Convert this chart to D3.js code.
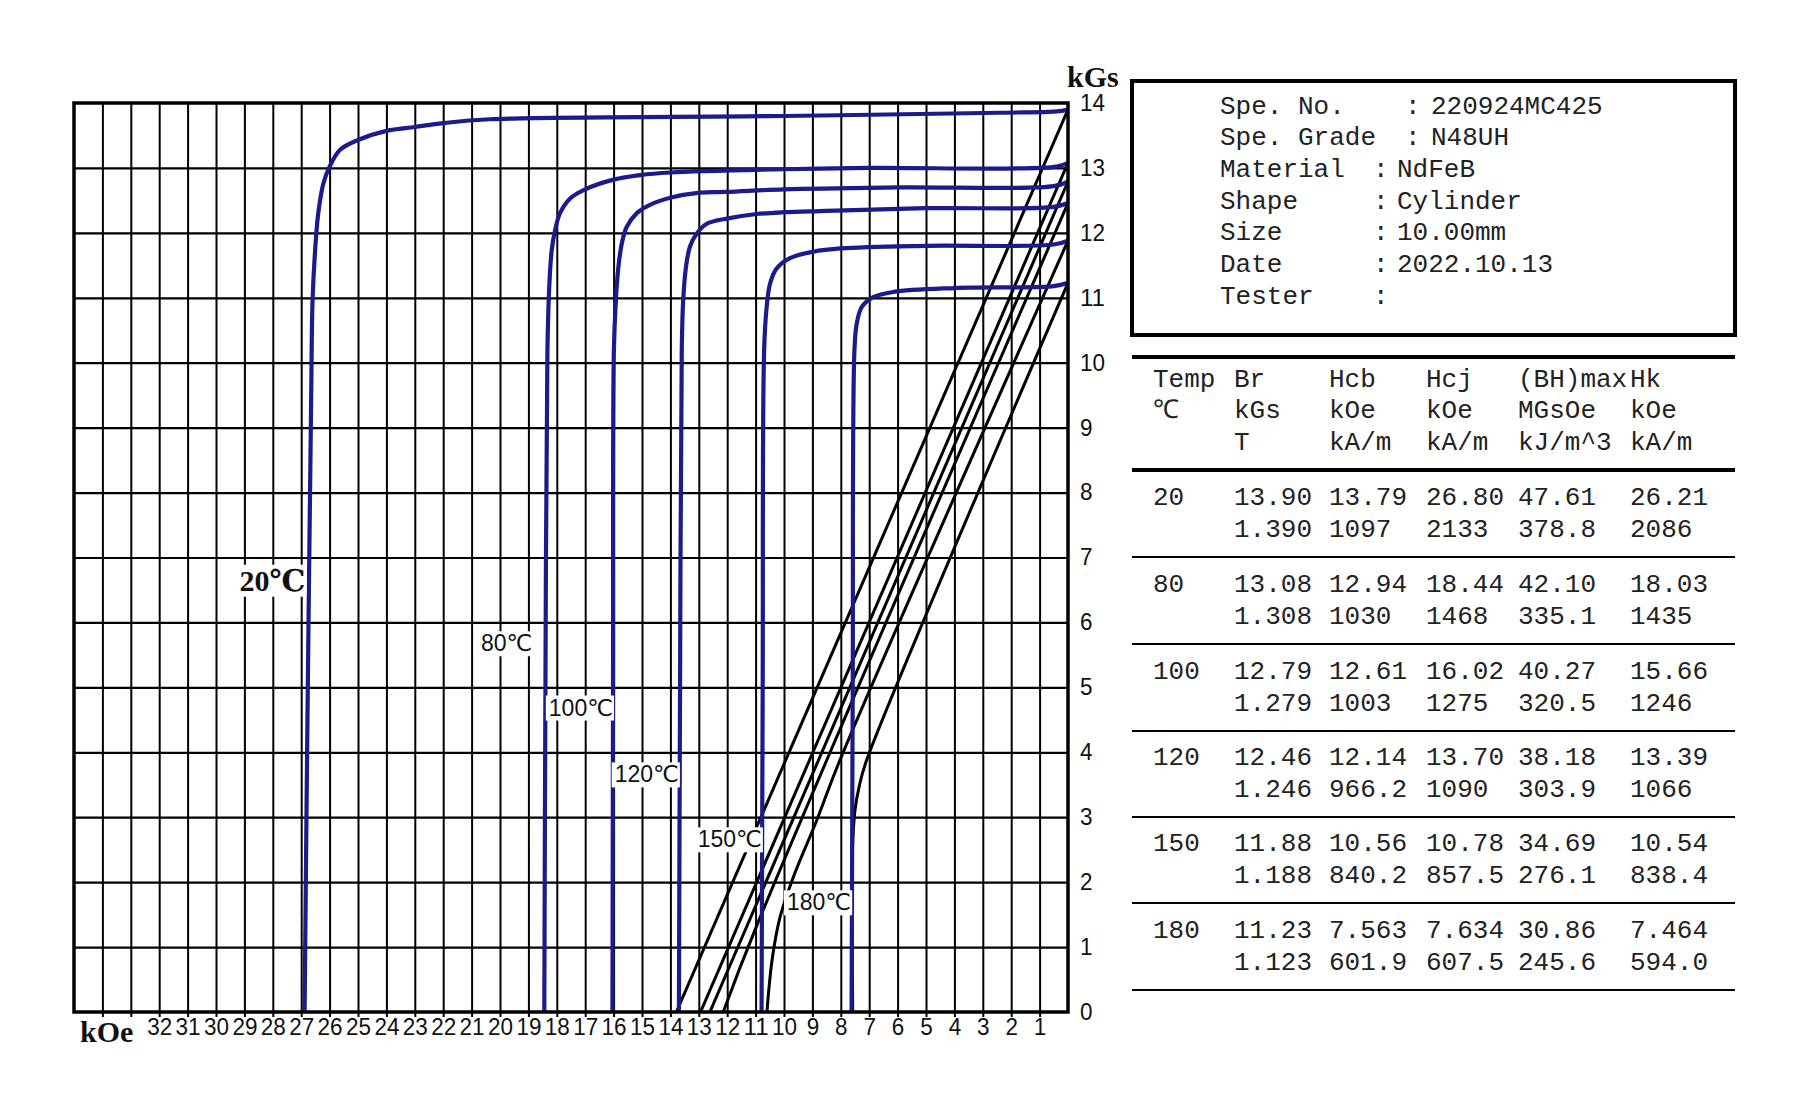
<!DOCTYPE html>
<html>
<head>
<meta charset="utf-8">
<script src="https://cdn.jsdelivr.net/npm/d3@7"></script>
<style>
  body { margin: 0; background: #fff; }
</style>
</head>
<body>
<script>
// demagnetization curves, H in kOe, J / B in kGs
var temps = [20, 80, 100, 120, 150, 180];

var jCurve20  = [[0,13.90],[0.4,13.87],[2.4,13.85],[10,13.80],[20.35,13.75],[22,13.69],[23,13.63],[24,13.57],[25,13.43],[25.63,13.28],[26.0,13.02],[26.22,12.76],[26.4,12.30],[26.51,11.73],[26.6,10.96],[26.65,9.42],[26.78,4.5],[26.88,0]];
var jCurve80  = [[0,13.08],[0.4,13.02],[7,13.0],[10,12.98],[14.0,12.93],[15.07,12.89],[16.0,12.82],[17.0,12.67],[17.53,12.53],[17.89,12.30],[18.06,12.04],[18.18,11.73],[18.26,11.22],[18.33,10.19],[18.40,5.0],[18.44,0]];
var jCurve100 = [[0,12.79],[0.5,12.72],[6,12.70],[10,12.67],[12.02,12.63],[12.96,12.62],[14.01,12.54],[14.72,12.43],[15.19,12.30],[15.54,12.09],[15.71,11.84],[15.83,11.48],[15.92,10.96],[15.99,10.19],[16.02,5.0],[16.04,0]];
var jCurve120 = [[0,12.46],[0.5,12.40],[5,12.38],[8.5,12.34],[10.96,12.29],[12.02,12.22],[12.72,12.14],[13.07,11.99],[13.31,11.79],[13.45,11.48],[13.55,10.96],[13.60,10.19],[13.66,5.0],[13.70,0]];
var jCurve150 = [[0,11.88],[0.5,11.82],[5,11.80],[8,11.76],[8.97,11.71],[9.79,11.61],[10.26,11.45],[10.49,11.22],[10.61,10.86],[10.70,10.19],[10.75,5.0],[10.79,0]];
var jCurve180 = [[0,11.23],[0.5,11.18],[4,11.15],[6.15,11.09],[6.86,11.01],[7.26,10.86],[7.44,10.60],[7.52,10.19],[7.58,5.0],[7.62,0]];

var bCurve20  = [[0,13.90],[13.79,0]];
var bCurve80  = [[0,13.08],[12.94,0]];
var bCurve100 = [[0,12.79],[12.61,0]];
var bCurve120 = [[0,12.46],[10.96,1.33],[12.14,0]];
var bCurve150 = [[0,11.88],[8.03,3.88],[8.85,2.95],[9.67,2.08],[10.14,1.46],[10.42,0.8],[10.60,0]];
var bCurve180 = [[0,11.23],[7.09,3.88],[7.35,3.48],[7.50,3.11],[7.58,2.60],[7.60,1.5],[7.58,0]];

var hcjValues = [26.80, 18.44, 16.02, 13.70, 10.78, 7.634];

var xTickLabels = [1,2,3,4,5,6,7,8,9,10,11,12,13,14,15,16,17,18,19,20,21,22,23,24,25,26,27,28,29,30,31,32];
var yTickLabels = [0,1,2,3,4,5,6,7,8,9,10,11,12,13,14];

var infoLabels = ["Spe. No.", "Spe. Grade", "Material", "Shape", "Size", "Date", "Tester"];
var infoValues = ["220924MC425", "N48UH", "NdFeB", "Cylinder", "10.00mm", "2022.10.13", ""];

var headRow1 = ["Temp", "Br", "Hcb", "Hcj", "(BH)max", "Hk"];
var headRow2 = ["℃", "kGs", "kOe", "kOe", "MGsOe", "kOe"];
var headRow3 = ["", "T", "kA/m", "kA/m", "kJ/m^3", "kA/m"];

var brKGs   = ["13.90", "13.08", "12.79", "12.46", "11.88", "11.23"];
var brT     = ["1.390", "1.308", "1.279", "1.246", "1.188", "1.123"];
var hcbKOe  = ["13.79", "12.94", "12.61", "12.14", "10.56", "7.563"];
var hcbKAm  = ["1097", "1030", "1003", "966.2", "840.2", "601.9"];
var hcjKOe  = ["26.80", "18.44", "16.02", "13.70", "10.78", "7.634"];
var hcjKAm  = ["2133", "1468", "1275", "1090", "857.5", "607.5"];
var bhMGsOe = ["47.61", "42.10", "40.27", "38.18", "34.69", "30.86"];
var bhKJm3  = ["378.8", "335.1", "320.5", "303.9", "276.1", "245.6"];
var hkKOe   = ["26.21", "18.03", "15.66", "13.39", "10.54", "7.464"];
var hkKAm   = ["2086", "1435", "1246", "1066", "838.4", "594.0"];

var jCurves = [jCurve20, jCurve80, jCurve100, jCurve120, jCurve150, jCurve180];
var bCurves = [bCurve20, bCurve80, bCurve100, bCurve120, bCurve150, bCurve180];

var width = 1800, height = 1100;
var plot = {left: 74, right: 1068, top: 103, bottom: 1012};

var svg = d3.select("body").append("svg")
    .attr("width", width)
    .attr("height", height)
    .style("background", "#fff");

var x = d3.scaleLinear().domain([35, 0]).range([plot.left, plot.right]);
var y = d3.scaleLinear().domain([0, 14]).range([plot.bottom, plot.top]);

// vertical grid (ticks poke a bit below the frame)
svg.append("g")
    .attr("transform", `translate(0, ${plot.top})`)
    .call(d3.axisBottom(x).tickValues(d3.range(1, 35)).tickSize(plot.bottom - plot.top + 5).tickFormat(""))
    .call(g => g.select(".domain").remove())
    .selectAll("line").attr("stroke", "#000").attr("stroke-width", 2);

// horizontal grid
svg.append("g")
    .attr("transform", `translate(${plot.right}, 0)`)
    .call(d3.axisLeft(y).tickValues(d3.range(1, 14)).tickSize(plot.right - plot.left).tickFormat(""))
    .call(g => g.select(".domain").remove())
    .selectAll("line").attr("stroke", "#000").attr("stroke-width", 2.2);

// x tick labels
var xAx = svg.append("g")
    .attr("transform", `translate(0, ${plot.bottom})`)
    .call(d3.axisBottom(x).tickValues(xTickLabels).tickSize(0).tickPadding(6));
xAx.select(".domain").remove();
xAx.selectAll("text")
    .attr("font-family", "Liberation Sans, Arial, sans-serif")
    .attr("font-size", 24)
    .attr("fill", "#111")
    .attr("textLength", d => String(d).length * 12.5)
    .attr("lengthAdjust", "spacingAndGlyphs");

// y tick labels
var yAx = svg.append("g")
    .attr("transform", `translate(${plot.right}, 0)`)
    .call(d3.axisRight(y).tickValues(yTickLabels).tickSize(0).tickPadding(12));
yAx.select(".domain").remove();
yAx.selectAll("text")
    .attr("font-family", "Liberation Sans, Arial, sans-serif")
    .attr("font-size", 23)
    .attr("fill", "#111")
    .attr("textLength", d => String(d).length * 12.5)
    .attr("lengthAdjust", "spacingAndGlyphs");

svg.append("clipPath").attr("id", "plotClip")
    .append("rect")
    .attr("x", plot.left).attr("y", plot.top)
    .attr("width", plot.right - plot.left).attr("height", plot.bottom - plot.top);

var line = d3.line()
    .x(d => x(d[0]))
    .y(d => y(d[1]))
    .curve(d3.curveCatmullRom.alpha(0.5));

var curves = svg.append("g").attr("clip-path", "url(#plotClip)");

curves.selectAll(".bline")
    .data(bCurves).enter()
    .append("path")
    .attr("class", "bline")
    .attr("d", line)
    .attr("fill", "none")
    .attr("stroke", "#000")
    .attr("stroke-width", 3);

curves.selectAll(".jline")
    .data(jCurves).enter()
    .append("path")
    .attr("class", "jline")
    .attr("d", line)
    .attr("fill", "none")
    .attr("stroke", "#1b1b8c")
    .attr("stroke-width", 4.2)
    .attr("stroke-linejoin", "round");

// frame
svg.append("rect")
    .attr("x", plot.left).attr("y", plot.top)
    .attr("width", plot.right - plot.left).attr("height", plot.bottom - plot.top)
    .attr("fill", "none")
    .attr("stroke", "#000")
    .attr("stroke-width", 3.5);

// axis unit labels
svg.append("text").text("kGs")
    .attr("x", plot.right - 1).attr("y", 87)
    .attr("font-family", "Liberation Serif, Times New Roman, serif")
    .attr("font-weight", "bold").attr("font-size", 30).attr("fill", "#111");
svg.append("text").text("kOe")
    .attr("x", 80).attr("y", 1042)
    .attr("font-family", "Liberation Serif, Times New Roman, serif")
    .attr("font-weight", "bold").attr("font-size", 30).attr("fill", "#111");

// temperature labels, each sits just left of its Hcj drop
var labelLayout = [
    {dy: 6.65, gap: 0.05, size: 30, bold: true},
    {dy: 5.68, gap: 0.42, size: 23, bold: false},
    {dy: 4.69, gap: 0.0,  size: 23, bold: false},
    {dy: 3.66, gap: 0.0,  size: 23, bold: false},
    {dy: 2.66, gap: 0.0,  size: 23, bold: false},
    {dy: 1.69, gap: 0.0,  size: 23, bold: false}
];

temps.forEach(function(t, i) {
    var L = labelLayout[i];
    var g = svg.append("g");
    var txt = g.append("text")
        .text(t + "℃")
        .attr("x", x(hcjValues[i] + L.gap))
        .attr("y", y(L.dy))
        .attr("dy", "0.35em")
        .attr("text-anchor", "end")
        .attr("font-family", L.bold ? "Liberation Serif, DejaVu Serif, serif" : "Liberation Sans, DejaVu Sans, sans-serif")
        .attr("font-weight", L.bold ? "bold" : "normal")
        .attr("font-size", L.size)
        .attr("fill", "#111");
    var bb = txt.node().getBBox();
    g.insert("rect", "text")
        .attr("x", bb.x - 3).attr("y", bb.y + 1)
        .attr("width", bb.width + 4).attr("height", bb.height - 1)
        .attr("fill", "#fff");
});

// ---- info box ----
var mono = "Liberation Mono, DejaVu Sans Mono, monospace";
svg.append("rect")
    .attr("x", 1132).attr("y", 81)
    .attr("width", 603).attr("height", 254)
    .attr("fill", "none").attr("stroke", "#000").attr("stroke-width", 4);

var colonX = [1405, 1405, 1373, 1373, 1373, 1373, 1373];
var valueX = [1431, 1431, 1397, 1397, 1397, 1397, 1397];
infoLabels.forEach(function(lab, i) {
    var yy = 105 + i * 31.7 + 8.5;
    svg.append("text").text(lab).attr("x", 1220).attr("y", yy)
        .attr("font-family", mono).attr("font-size", 26).attr("fill", "#222");
    svg.append("text").text(":").attr("x", colonX[i]).attr("y", yy)
        .attr("font-family", mono).attr("font-size", 26).attr("fill", "#222");
    svg.append("text").text(infoValues[i]).attr("x", valueX[i]).attr("y", yy)
        .attr("font-family", mono).attr("font-size", 26).attr("fill", "#222");
});

// ---- results table ----
var tLeft = 1132, tRight = 1735;
var colX = [1153, 1234, 1329, 1426, 1518, 1630];
var groupTop = [470, 557, 644, 730, 816, 903];

svg.append("line").attr("x1", tLeft).attr("x2", tRight).attr("y1", 357).attr("y2", 357)
    .attr("stroke", "#000").attr("stroke-width", 4);
svg.append("line").attr("x1", tLeft).attr("x2", tRight).attr("y1", 470).attr("y2", 470)
    .attr("stroke", "#000").attr("stroke-width", 4);
groupTop.forEach(function(g0) {
    svg.append("line").attr("x1", tLeft).attr("x2", tRight).attr("y1", g0 + 87).attr("y2", g0 + 87)
        .attr("stroke", "#000").attr("stroke-width", 2.2);
});

function rowText(vals, yc) {
    vals.forEach(function(v, j) {
        svg.append("text").text(v)
            .attr("x", colX[j]).attr("y", yc + 8.5)
            .attr("font-family", mono).attr("font-size", 26).attr("fill", "#222");
    });
}
rowText(headRow1, 378);
rowText(headRow2, 409);
rowText(headRow3, 441);

temps.forEach(function(t, i) {
    rowText([String(t), brKGs[i], hcbKOe[i], hcjKOe[i], bhMGsOe[i], hkKOe[i]], groupTop[i] + 26);
    rowText(["", brT[i], hcbKAm[i], hcjKAm[i], bhKJm3[i], hkKAm[i]], groupTop[i] + 58);
});
</script>
</body>
</html>
